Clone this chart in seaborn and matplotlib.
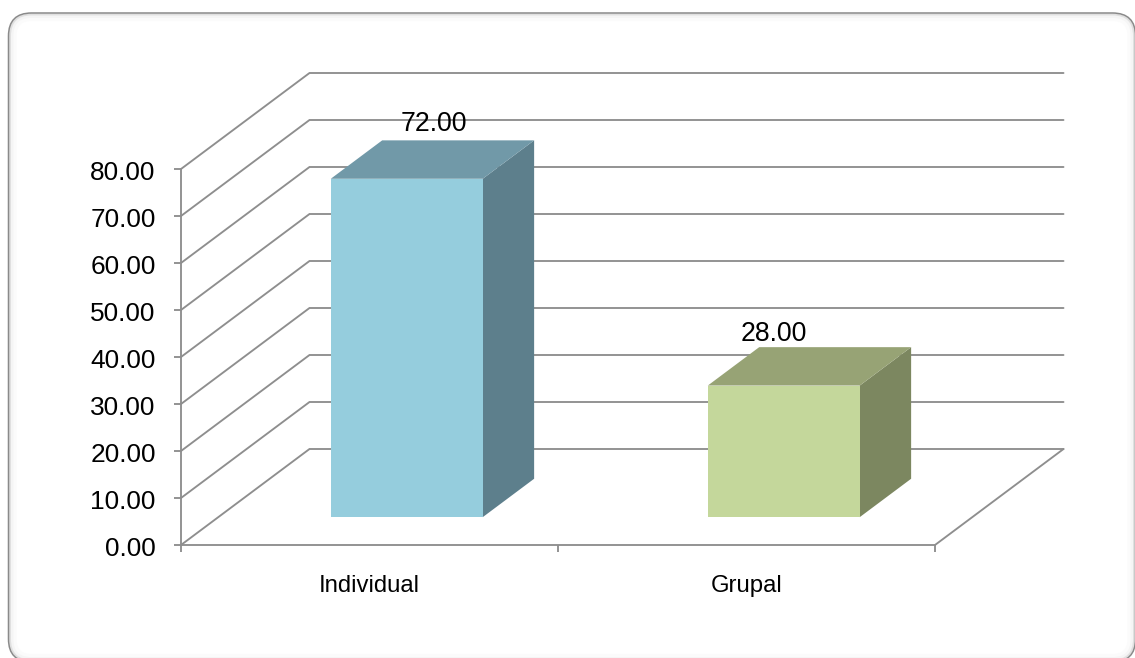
import matplotlib
matplotlib.use("Agg")
import matplotlib.pyplot as plt
import pandas as pd
import seaborn as sns
from matplotlib.patches import FancyBboxPatch, Polygon
from matplotlib.transforms import IdentityTransform, ScaledTranslation

categories = ["Individual", "Grupal"]
values = [72.00, 28.00]
front_colors = ["#95CDDD", "#C4D79B"]
top_colors = ["#7199A8", "#97A375"]
side_colors = ["#5D7F8C", "#7C8760"]
y_ticks = [0, 10, 20, 30, 40, 50, 60, 70, 80]
label_nudges_pt = [(1.3, 2.5), (-25.4, 0.3)]

W, H = 1135, 658
GRID = "#8E8E8E"
sns.set_style("white")
plt.rcParams["font.family"] = ["Liberation Sans", "DejaVu Sans"]

fig = plt.figure(figsize=(W / 100, H / 100), dpi=100, facecolor="white")

# Rounded card around the chart, with a soft inner edge
L, T, R, B = 8.5, 13, 1135.5, 662
for inset, col, lw in [(6, "#FBFBFB", 3.0), (3.5, "#F5F5F5", 2.0), (1.5, "#E0E0E0", 1.4), (0, "#8A8A8A", 1.1)]:
    fig.add_artist(FancyBboxPatch(
        (L + inset, H - B + inset), R - L - 2 * inset, B - T - 2 * inset,
        boxstyle=f"round,pad=0,rounding_size={23 - inset}",
        transform=IdentityTransform(), facecolor="none", edgecolor=col, linewidth=lw))

ax = fig.add_axes([181 / W, 1 - 545 / H, (935 - 181) / W, (545 - 169) / H])
ax.patch.set_visible(False)

# The floor recedes by this much between the front edge and the back wall
DEPTH_X = 128.5 / 377.0          # category units
DEPTH_Y = 96.0 / 4.7             # value units
BAR_START = 0.29                 # depth fraction where a bar's front face sits
BAR_DEPTH = 0.40                 # depth fraction taken up by a bar


def at_depth(x, v, d):
    return x + d * DEPTH_X, v + d * DEPTH_Y


# Wall and floor grid: diagonal on the side wall, horizontal on the back wall
for v in y_ticks:
    ax.plot(*zip(at_depth(-0.5, v, 0), at_depth(-0.5, v, 1), at_depth(1.5, v, 1)),
            color=GRID, lw=1.35, clip_on=False, zorder=1, solid_joinstyle="miter")
ax.plot(*zip(at_depth(1.5, 0, 0), at_depth(1.5, 0, 1)), color=GRID, lw=1.35, clip_on=False, zorder=1)

data = pd.DataFrame({"category": categories, "value": values})
lift = BAR_START * DEPTH_Y
sns.barplot(data=data, x="category", y="value", hue="category", palette=front_colors,
            legend=False, width=0.403, bottom=lift, ax=ax, saturation=1, zorder=4, linewidth=0)

shift = BAR_START * DEPTH_X
for i, patch in enumerate(ax.patches):
    patch.set_x(patch.get_x() + shift)
    patch.set_clip_on(False)
    x0, x1 = patch.get_x(), patch.get_x() + patch.get_width()
    y0, y1 = lift, lift + values[i]
    dx, dy = BAR_DEPTH * DEPTH_X, BAR_DEPTH * DEPTH_Y
    ax.add_patch(Polygon([(x1, y0), (x1 + dx, y0 + dy), (x1 + dx, y1 + dy), (x1, y1)],
                         facecolor=side_colors[i], edgecolor="none", clip_on=False, zorder=3))
    ax.add_patch(Polygon([(x0, y1), (x0 + dx, y1 + dy), (x1 + dx, y1 + dy), (x1, y1)],
                         facecolor=top_colors[i], edgecolor="none", clip_on=False, zorder=3))
    ax.annotate(f"{values[i]:.2f}", ((x0 + x1) / 2 + dx / 2, y1 + dy),
                xytext=label_nudges_pt[i], textcoords="offset points", ha="center", va="bottom",
                fontsize=19.2, color="black", zorder=6, annotation_clip=False)

ax.set_xlim(-0.5, 1.5)
ax.set_ylim(0, 80)
ax.set_xlabel("")
ax.set_ylabel("")
ax.set_yticks(y_ticks, [f"{v:.2f}" for v in y_ticks], fontsize=18.9, color="black")
ax.set_xticks([0, 1], categories, fontsize=17.2, color="black")
ax.set_xticks([-0.5, 0.5, 1.5], minor=True)
ax.tick_params(axis="x", which="major", bottom=False, pad=18)
ax.tick_params(axis="x", which="minor", bottom=True, length=5, width=1.35, color=GRID)
ax.tick_params(axis="y", length=5, width=1.35, color=GRID, pad=13.2, left=True)

# Value labels sit slightly below their tick marks
label_drop = ScaledTranslation(0, -1.5 / 100, fig.dpi_scale_trans)
for tick in ax.yaxis.get_major_ticks():
    tick.label1.set_transform(tick.label1.get_transform() + label_drop)

sns.despine(ax=ax)
for side in ("left", "bottom"):
    ax.spines[side].set_color(GRID)
    ax.spines[side].set_linewidth(1.35)
    ax.spines[side].set_zorder(2)

fig.savefig("out.png", dpi=100, facecolor="white")
